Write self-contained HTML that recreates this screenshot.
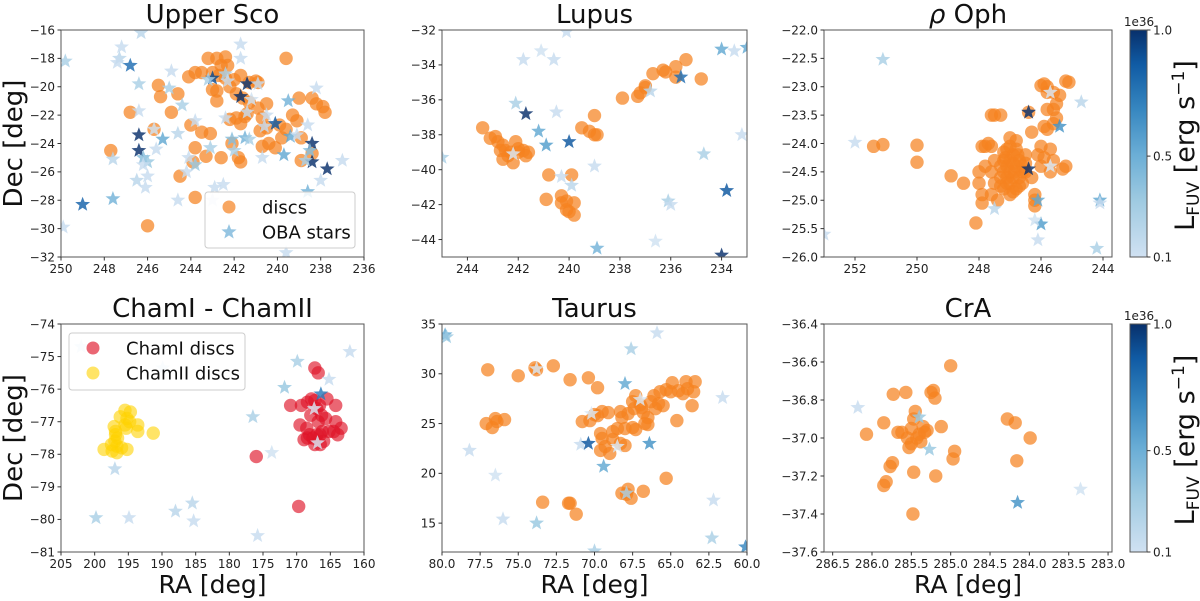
<!DOCTYPE html>
<html><head><meta charset="utf-8"><style>
body{margin:0;background:#fff;}
svg{display:block;font-family:"DejaVu Sans","Liberation Sans",sans-serif;}
</style></head><body>
<svg id="fig" width="1200" height="601" viewBox="0 0 1200 601" xmlns="http://www.w3.org/2000/svg">
<defs>
<linearGradient id="blues" x1="0" y1="1" x2="0" y2="0">
<stop offset="0" stop-color="#d0e1f2"/><stop offset="0.25" stop-color="#9ecae1"/><stop offset="0.45" stop-color="#6baed6"/><stop offset="0.65" stop-color="#3787c0"/><stop offset="0.85" stop-color="#105ba4"/><stop offset="1" stop-color="#08306b"/>
</linearGradient>
</defs>
</svg>
<script>
// ---- data ----
const upperScoDiscs=[[243.2,-18.0],[242.8,-18.0],[242.4,-17.9],[242.6,-18.5],[242.3,-18.5],[243.0,-19.0],[243.5,-19.0],[243.8,-19.0],[244.1,-19.3],[242.7,-19.2],[242.4,-19.4],[242.0,-19.5],[241.7,-19.2],[241.3,-19.7],[241.0,-19.6],[243.0,-20.2],[242.8,-20.3],[242.2,-20.0],[241.9,-20.5],[241.6,-20.8],[241.3,-21.1],[242.8,-21.0],[245.5,-19.9],[245.4,-20.7],[244.6,-20.5],[244.9,-21.8],[246.8,-21.8],[245.7,-23.0],[247.7,-24.5],[244.5,-26.3],[243.8,-27.8],[246.0,-29.8],[239.6,-18.0],[244.0,-22.7],[243.5,-23.2],[243.1,-23.3],[243.8,-24.3],[243.3,-24.9],[243.9,-25.3],[242.6,-25.0],[242.2,-22.3],[241.9,-22.2],[241.7,-22.6],[241.4,-21.9],[240.9,-21.5],[240.5,-21.2],[240.7,-22.2],[240.5,-22.9],[240.8,-23.1],[239.9,-22.7],[239.6,-23.0],[239.8,-23.6],[240.7,-24.2],[240.4,-24.0],[240.1,-24.3],[239.3,-22.0],[239.1,-22.4],[238.9,-23.6],[239.0,-20.8],[238.4,-20.8],[238.2,-21.2],[237.9,-21.4],[237.8,-21.8],[238.9,-25.2],[238.4,-24.7],[242.1,-24.0],[241.8,-25.0],[241.7,-25.3],[240.9,-19.7],[241.5,-22.1]];
const upperScoStars=[[249.8,-18.2,0.3],[247.2,-17.2,0.2],[247.3,-18.0,0.25],[247.4,-18.3,0.2],[246.8,-18.5,0.75],[246.3,-16.2,0.25],[241.7,-17.0,0.2],[241.7,-18.0,0.2],[246.4,-19.8,0.3],[244.9,-18.9,0.2],[245.0,-20.1,0.3],[246.4,-21.7,0.2],[244.4,-21.3,0.3],[246.4,-23.4,1.0],[246.4,-24.5,1.0],[245.3,-23.7,0.5],[245.7,-23.0,0.15],[244.6,-23.3,0.25],[245.6,-24.4,0.2],[246.2,-25.0,0.4],[246.0,-25.3,0.35],[246.2,-25.5,0.2],[246.0,-26.3,0.2],[246.5,-26.6,0.25],[246.1,-27.1,0.2],[247.6,-25.1,0.25],[247.6,-27.9,0.45],[249.0,-28.3,0.8],[249.9,-29.9,0.2],[243.8,-22.4,0.2],[244.1,-25.0,0.2],[243.8,-25.5,0.35],[244.2,-26.0,0.2],[243.1,-24.3,0.3],[242.9,-27.1,0.2],[242.5,-26.9,0.2],[243.0,-28.0,0.1],[244.6,-28.0,0.2],[243.0,-19.4,0.9],[243.2,-19.5,0.3],[242.4,-19.1,0.3],[242.3,-19.6,0.2],[241.4,-19.8,1.0],[241.7,-20.7,1.0],[241.2,-20.9,0.15],[241.4,-21.8,0.2],[240.9,-19.8,0.2],[242.4,-22.2,0.2],[242.1,-23.7,0.4],[241.5,-23.6,0.45],[241.3,-23.7,0.3],[242.0,-24.5,0.3],[240.7,-25.0,0.2],[240.5,-22.0,0.2],[240.6,-22.8,0.2],[240.1,-22.6,0.85],[239.4,-23.5,0.5],[239.1,-23.4,0.2],[239.3,-29.2,0.1],[239.6,-31.7,0.2],[239.5,-21.0,0.45],[239.7,-24.8,0.5],[238.6,-22.7,0.2],[238.4,-24.0,1.0],[238.4,-25.3,1.0],[237.7,-25.8,1.0],[238.5,-24.5,0.4],[238.7,-25.2,0.3],[238.6,-27.4,0.45],[238.2,-20.1,0.2],[238.0,-26.6,0.2],[237.0,-25.2,0.2]];
const lupusDiscs=[[243.4,-37.6],[243.1,-38.2],[242.9,-38.1],[242.8,-38.4],[242.6,-38.6],[242.5,-38.9],[242.7,-38.9],[242.4,-39.2],[242.6,-39.4],[242.2,-39.6],[242.1,-38.4],[242.0,-39.0],[241.7,-39.2],[241.8,-38.9],[241.6,-39.0],[242.3,-39.0],[242.0,-38.8],[240.8,-40.3],[239.9,-40.3],[240.9,-41.7],[240.3,-41.5],[240.3,-41.9],[240.1,-41.8],[240.1,-42.3],[240.0,-42.4],[239.8,-42.6],[239.8,-41.9],[239.5,-37.6],[239.2,-37.8],[239.0,-38.0],[238.9,-38.0],[239.0,-36.9],[237.9,-35.9],[237.3,-35.8],[237.2,-35.6],[237.0,-35.3],[237.0,-35.2],[236.7,-34.5],[236.3,-34.3],[236.2,-34.4],[235.8,-34.1],[235.8,-34.7],[235.4,-33.7],[234.8,-34.8]];
const lupusStars=[[240.1,-32.1,0.2],[241.1,-33.2,0.15],[241.8,-33.7,0.2],[240.6,-33.7,0.2],[242.1,-36.2,0.3],[241.7,-36.8,1.0],[240.5,-36.7,0.2],[241.2,-37.8,0.5],[240.9,-38.6,0.55],[240.0,-38.4,0.85],[242.2,-39.1,0.1],[240.3,-40.4,0.2],[239.9,-40.9,0.25],[239.0,-39.8,0.2],[238.9,-44.5,0.45],[236.6,-44.1,0.15],[236.1,-41.8,0.3],[236.0,-42.0,0.2],[236.8,-35.5,0.25],[235.6,-34.7,0.75],[234.7,-39.1,0.3],[234.0,-33.1,0.5],[233.5,-33.2,0.2],[233.0,-33.0,0.5],[233.2,-38.0,0.2],[233.8,-41.2,0.85],[234.0,-44.9,1.0],[245.0,-39.3,0.3]];
const ophDiscs=[[251.4,-24.05],[251.1,-24.02],[250.0,-24.03],[250.0,-24.33],[248.9,-24.57],[248.5,-24.7],[248.1,-25.4],[248.0,-24.7],[247.9,-24.9],[247.9,-25.05],[248.0,-24.5],[247.8,-24.4],[247.8,-24.05],[247.9,-24.05],[247.6,-24.05],[247.7,-24.0],[247.5,-24.3],[247.6,-24.5],[247.5,-24.7],[247.6,-24.9],[247.4,-25.0],[247.6,-23.5],[247.5,-23.5],[247.3,-23.5],[247.2,-24.3],[247.3,-24.6],[247.0,-23.9],[246.8,-23.95],[247.1,-24.1],[246.9,-24.2],[247.1,-24.4],[247.0,-24.5],[246.8,-24.4],[247.0,-24.7],[246.9,-24.6],[246.7,-24.3],[247.2,-24.8],[246.8,-24.8],[247.0,-24.9],[246.6,-24.5],[246.5,-24.2],[246.6,-24.7],[246.4,-23.45],[246.3,-23.8],[246.0,-24.05],[245.9,-24.25],[246.1,-24.2],[246.0,-24.4],[245.7,-24.1],[245.6,-24.3],[245.7,-24.5],[245.3,-24.45],[245.2,-24.4],[246.2,-24.9],[246.2,-25.0],[246.2,-25.1],[246.0,-22.98],[245.9,-22.95],[245.8,-23.0],[245.8,-23.1],[245.6,-23.1],[245.2,-22.9],[245.1,-22.92],[245.4,-23.15],[245.5,-23.3],[245.6,-23.4],[245.8,-23.4],[245.5,-23.55],[245.6,-23.65],[245.9,-23.7],[245.8,-23.75],[246.5,-24.5],[246.5,-24.35],[246.3,-24.6],[247.1,-24.6],[246.9,-24.35],[247.2,-24.15],[246.7,-24.6],[247.2,-24.5],[247.0,-24.3],[246.8,-24.1],[247.1,-24.7],[246.7,-24.75],[246.9,-24.85],[247.3,-24.4],[246.6,-24.4],[247.0,-24.05],[246.85,-24.5],[247.15,-24.25],[246.75,-24.2],[247.3,-24.75]];
const ophStars=[[251.1,-22.52,0.3],[252.0,-23.98,0.2],[247.5,-25.15,0.25],[246.4,-23.45,1.0],[246.4,-24.45,1.0],[245.7,-23.1,0.1],[245.7,-24.4,0.1],[245.4,-23.7,0.6],[246.1,-25.0,0.5],[246.0,-25.42,0.55],[246.2,-25.35,0.15],[246.1,-25.7,0.2],[244.7,-23.27,0.25],[244.1,-25.0,0.5],[244.1,-25.05,0.2],[244.2,-25.85,0.3],[253.0,-25.6,0.2]];
const chamIDiscs=[[167.3,-75.35],[166.8,-75.5],[165.5,-76.3],[164.2,-76.5],[170.9,-76.5],[169.3,-76.5],[168.4,-76.4],[167.8,-76.3],[167.3,-76.35],[166.6,-76.5],[167.0,-76.6],[166.3,-76.8],[167.9,-76.8],[166.8,-77.0],[169.5,-77.1],[164.2,-77.0],[163.4,-77.2],[164.5,-77.3],[163.9,-77.4],[165.2,-77.3],[168.1,-77.4],[167.6,-77.5],[167.0,-77.4],[166.5,-77.4],[166.2,-77.3],[168.4,-77.5],[168.9,-77.55],[166.0,-77.6],[167.3,-77.7],[166.5,-77.7],[176.0,-78.07],[169.7,-79.6],[168.5,-77.2],[165.7,-76.9]];
const chamIIDiscs=[[195.5,-76.65],[194.7,-76.7],[196.2,-76.85],[195.2,-76.9],[194.8,-77.0],[197.1,-77.15],[195.5,-77.1],[195.3,-77.2],[193.6,-77.1],[193.6,-77.3],[191.3,-77.35],[196.9,-77.3],[196.6,-77.5],[197.0,-77.6],[196.7,-77.75],[196.0,-77.8],[198.6,-77.85],[197.4,-77.9],[196.7,-77.95],[195.2,-77.85],[197.5,-77.7],[196.9,-77.4]];
const chamStars=[[202.0,-74.7,0.15],[189.9,-75.35,0.15],[162.1,-74.85,0.2],[169.9,-75.15,0.3],[165.2,-75.7,0.2],[171.8,-75.95,0.35],[166.4,-76.15,0.7],[167.4,-76.6,0.1],[166.9,-77.65,0.1],[176.5,-76.85,0.3],[173.7,-77.95,0.15],[197.0,-78.45,0.25],[199.8,-79.95,0.3],[194.9,-79.95,0.2],[188.0,-79.75,0.25],[185.5,-79.5,0.25],[185.3,-80.05,0.2],[175.8,-80.5,0.2]];
const taurusDiscs=[[77.0,30.4],[75.0,29.8],[73.9,30.6],[73.8,30.4],[72.7,30.8],[71.6,29.4],[70.4,29.6],[69.8,28.6],[77.1,25.0],[76.5,25.5],[76.4,25.2],[76.7,24.6],[75.9,25.4],[73.4,17.1],[71.6,17.0],[71.7,17.0],[71.2,15.9],[70.8,25.2],[70.3,25.3],[70.0,25.9],[69.5,26.2],[69.1,26.1],[69.8,25.8],[69.6,24.0],[69.5,23.5],[69.3,22.7],[69.6,22.3],[69.0,22.0],[68.8,23.4],[68.8,24.2],[68.5,24.5],[68.3,23.0],[68.0,22.8],[68.0,24.5],[67.5,24.6],[67.3,24.4],[68.2,25.6],[68.3,26.2],[67.8,26.0],[67.4,26.5],[67.0,26.9],[66.9,26.6],[67.5,27.2],[67.3,27.8],[66.8,26.1],[66.5,25.6],[66.0,26.5],[66.3,27.2],[65.8,27.0],[65.5,26.8],[66.1,27.8],[65.7,28.2],[65.3,28.4],[65.0,28.2],[64.9,29.1],[64.5,28.3],[64.2,28.0],[64.0,29.2],[63.9,28.5],[63.5,28.2],[63.4,29.2],[63.6,26.8],[64.6,25.3],[65.3,19.5],[66.5,24.9],[67.8,18.4],[67.9,17.9],[67.6,17.5],[66.8,18.2],[68.2,18.0],[66.7,25.0]];
const taurusStars=[[79.8,33.9,0.5],[79.7,33.7,0.35],[78.2,22.3,0.2],[76.5,19.8,0.15],[76.0,15.4,0.2],[73.8,15.0,0.35],[73.8,30.5,0.1],[70.9,22.9,0.2],[70.4,23.0,0.85],[70.2,26.0,0.1],[70.0,12.2,0.3],[69.4,20.7,0.5],[68.0,29.0,0.5],[67.6,32.5,0.3],[67.0,27.4,0.1],[68.5,22.7,0.1],[67.9,18.0,0.3],[66.4,23.0,0.6],[65.9,34.1,0.2],[61.6,27.6,0.2],[62.2,17.3,0.2],[62.3,13.5,0.3],[60.1,12.6,0.65]];
const craDiscs=[[285.0,-36.62],[285.73,-36.77],[285.57,-36.76],[285.25,-36.76],[285.22,-36.75],[285.2,-36.79],[285.45,-36.86],[285.47,-36.9],[285.85,-36.92],[285.12,-36.94],[285.67,-36.97],[285.62,-36.97],[285.5,-36.95],[285.4,-36.98],[285.35,-36.94],[285.3,-36.96],[285.43,-37.0],[285.55,-37.0],[285.5,-37.03],[285.38,-37.02],[286.07,-36.98],[285.53,-37.05],[284.95,-37.07],[284.97,-37.11],[285.74,-37.13],[285.77,-37.15],[285.47,-37.18],[285.19,-37.2],[285.82,-37.23],[285.85,-37.25],[285.48,-37.4],[284.28,-36.9],[284.18,-36.92],[283.99,-37.0],[284.16,-37.12],[285.33,-36.97]];
const craStars=[[286.18,-36.84,0.2],[285.4,-36.89,0.35],[285.27,-37.06,0.35],[284.15,-37.34,0.6],[283.35,-37.27,0.15]];
const usXTicks=[250,248,246,244,242,240,238,236];
const usYTicks=[-16,-18,-20,-22,-24,-26,-28,-30,-32];
const luXTicks=[244,242,240,238,236,234];
const luYTicks=[-32,-34,-36,-38,-40,-42,-44];
const opXTicks=[252,250,248,246,244];
const opYTicks=[-22.0,-22.5,-23.0,-23.5,-24.0,-24.5,-25.0,-25.5,-26.0];
const chXTicks=[205,200,195,190,185,180,175,170,165,160];
const chYTicks=[-74,-75,-76,-77,-78,-79,-80,-81];
const taXTicks=[80.0,77.5,75.0,72.5,70.0,67.5,65.0,62.5,60.0];
const taYTicks=[15,20,25,30,35];
const crXTicks=[286.5,286.0,285.5,285.0,284.5,284.0,283.5,283.0];
const crYTicks=[-36.4,-36.6,-36.8,-37.0,-37.2,-37.4,-37.6];
const cbTicks=[0.1,0.5,1.0];

const NS="http://www.w3.org/2000/svg";
const svg=document.getElementById('fig');
function mk(tag,attrs,parent){const e=document.createElementNS(NS,tag);for(const k in attrs)e.setAttribute(k,attrs[k]);(parent||svg).appendChild(e);return e;}
const blues=[[247,251,255],[222,235,247],[198,219,239],[158,202,225],[107,174,214],[66,146,198],[33,113,181],[8,81,156],[8,48,107]];
function cmap(v){let t=Math.max(0,Math.min(1,(v-0.1)/0.9));t=0.15+t*0.85;const p=t*8,i=Math.min(7,Math.floor(p)),f=p-i;const a=blues[i],b=blues[i+1];return `rgb(${a.map((c,j)=>Math.round(c+(b[j]-c)*f)).join(',')})`;}
function starPath(cx,cy,R){const r=R*0.42;let d='';for(let i=0;i<10;i++){const ang=-Math.PI/2+i*Math.PI/5;const rr=i%2?r:R;d+=(i?'L':'M')+(cx+rr*Math.cos(ang)).toFixed(1)+','+(cy+rr*Math.sin(ang)).toFixed(1);}return d+'Z';}
function fmt(v,dec){const s=v.toFixed(dec);return s.replace('-','−');}

let pid=0;
function panel(cfg){
  pid++;
  const {x0,x1,y0,y1,xlim,ylim}=cfg;
  const X=v=>x0+(v-xlim[0])/(xlim[1]-xlim[0])*(x1-x0);
  const Y=v=>y0+(v-ylim[0])/(ylim[1]-ylim[0])*(y1-y0);
  const g=mk('g',{});
  
  
  const cp=mk('clipPath',{id:'cp'+pid},g);mk('rect',{x:x0,y:y0,width:x1-x0,height:y1-y0},cp);
  const plot=mk('g',{'clip-path':`url(#cp${pid})`},g);
  
  
  (cfg.discs||[]).forEach(set=>{set.data.forEach(d=>{
    const c=mk('circle',{cx:X(d[0]),cy:Y(d[1]),r:6.7,fill:set.color,'fill-opacity':set.op},plot);
    
    
  });});
  cfg.stars.forEach(d=>{
    const s=mk('path',{d:starPath(X(d[0]),Y(d[1]),7.8),fill:cmap(d[2]),'fill-opacity':0.82},plot);
    
    
  });
  const fr=mk('rect',{x:x0,y:y0,width:x1-x0,height:y1-y0,fill:'none',stroke:'#555','stroke-width':1},g);
  
  
  cfg.xticks.forEach(t=>{const x=X(t);mk('line',{x1:x,x2:x,y1:y1,y2:y1+3.5,stroke:'#333'},g);
    const tx=mk('text',{x:x,y:y1+16,'font-size':12,'text-anchor':'middle',fill:'#222'},g);tx.textContent=fmt(t,cfg.xdec);
    
    });
  cfg.yticks.forEach(t=>{const y=Y(t);mk('line',{x1:x0-3.5,x2:x0,y1:y,y2:y,stroke:'#333'},g);
    const tx=mk('text',{x:x0-6,y:y+4.3,'font-size':12,'text-anchor':'end',fill:'#222'},g);tx.textContent=fmt(t,cfg.ydec);
    
    });
  const ti=mk('text',{x:(x0+x1)/2,y:y0-7,'font-size':26,'text-anchor':'middle',fill:'#111'},g);
  ti.innerHTML=cfg.title;
  
  
  if(cfg.ylabel){const l=mk('text',{x:0,y:0,'font-size':26,'text-anchor':'middle',fill:'#111',transform:`translate(22,${(y0+y1)/2}) rotate(-90)`},g);l.textContent='Dec [deg]';
    
    }
  if(cfg.xlabel){const l=mk('text',{x:(x0+x1)/2,y:y1+41,'font-size':25,'text-anchor':'middle',fill:'#111'},g);l.textContent='RA [deg]';
    
    }
  return g;
}
const ORANGE='rgb(245,130,32)';
panel({name:'upper-sco-panel',x0:61,x1:364,y0:30,y1:257,xlim:[250,236],ylim:[-16,-32],xticks:usXTicks,yticks:usYTicks,xdec:0,ydec:0,title:'Upper Sco',ylabel:true,
  discs:[{data:upperScoDiscs,color:ORANGE,op:0.72,mark:'disc-point'}],stars:upperScoStars});
panel({name:'lupus-panel',x0:442,x1:747,y0:30,y1:257,xlim:[245,233],ylim:[-32,-45],xticks:luXTicks,yticks:luYTicks,xdec:0,ydec:0,title:'Lupus',
  discs:[{data:lupusDiscs,color:ORANGE,op:0.72,mark:'disc-point'}],stars:lupusStars});
panel({name:'rho-oph-panel',x0:824,x1:1112,y0:30,y1:257,xlim:[253,243.71],ylim:[-22,-26],xticks:opXTicks,yticks:opYTicks,xdec:0,ydec:1,title:'<tspan font-style="italic">ρ</tspan> Oph',
  discs:[{data:ophDiscs,color:ORANGE,op:0.72,mark:'disc-point'}],stars:ophStars});
panel({name:'cham-panel',x0:61,x1:364,y0:324,y1:552,xlim:[205,160],ylim:[-74,-81],xticks:chXTicks,yticks:chYTicks,xdec:0,ydec:0,title:'ChamI - ChamII',ylabel:true,xlabel:true,
  discs:[{data:chamIDiscs,color:'rgb(222,20,40)',op:0.65,mark:'chami-disc-point'},{data:chamIIDiscs,color:'rgb(255,210,0)',op:0.6,mark:'chamii-disc-point'}],stars:chamStars});
panel({name:'taurus-panel',x0:442,x1:747,y0:324,y1:552,xlim:[80,60],ylim:[35,12.1],xticks:taXTicks,yticks:taYTicks,xdec:1,ydec:0,title:'Taurus',xlabel:true,
  discs:[{data:taurusDiscs,color:ORANGE,op:0.72,mark:'disc-point'}],stars:taurusStars});
panel({name:'cra-panel',x0:824,x1:1112,y0:324,y1:552,xlim:[286.61,282.95],ylim:[-36.4,-37.6],xticks:crXTicks,yticks:crYTicks,xdec:1,ydec:1,title:'CrA',xlabel:true,
  discs:[{data:craDiscs,color:ORANGE,op:0.72,mark:'disc-point'}],stars:craStars});

// legends
function legend(x,y,w,h,items,name){
  const g=mk('g',{});
  
  
  mk('rect',{x:x,y:y,width:w,height:h,rx:3,fill:'#fff','fill-opacity':0.85,stroke:'#ccc'},g);
  items.forEach((it,i)=>{const cy=y+15+i*25;
    if(it.star){mk('path',{d:starPath(x+24,cy,8),fill:it.color,'fill-opacity':0.75},g);}
    else mk('circle',{cx:x+24,cy:cy,r:6.5,fill:it.color,'fill-opacity':it.op},g);
    const t=mk('text',{x:x+57,y:cy+6.5,'font-size':18,fill:'#111'},g);t.textContent=it.label;
    
    });
}
legend(205,192,150,56,[{color:ORANGE,op:0.7,label:'discs'},{star:true,color:cmap(0.45),label:'OBA stars'}],'upper-sco-legend');
legend(69,333,176,57,[{color:'rgb(222,20,40)',op:0.65,label:'ChamI discs'},{color:'rgb(255,210,0)',op:0.6,label:'ChamII discs'}],'cham-legend');

// colorbars
function colorbar(y0,y1,name){
  const g=mk('g',{});
  
  
  mk('rect',{x:1130,y:y0,width:17,height:y1-y0,fill:'url(#blues)',stroke:'#555'},g);
  const Y=v=>y1-(v-0.1)/0.9*(y1-y0);
  cbTicks.forEach(t=>{const y=Y(t);mk('line',{x1:1147,x2:1150.5,y1:y,y2:y,stroke:'#333'},g);
    const tx=mk('text',{x:1153,y:y+4.3,'font-size':12,fill:'#222'},g);tx.textContent=t.toFixed(1);
    
    });
  const e=mk('text',{x:1139,y:y0-4,'font-size':12,'text-anchor':'middle',fill:'#222'},g);e.textContent='1e36';
  
  
  const l=mk('text',{x:0,y:0,'font-size':27,'text-anchor':'middle',fill:'#111',transform:`translate(1194,${(y0+y1)/2+2}) rotate(-90)`},g);
  l.innerHTML='L<tspan font-size="17" dy="5">FUV</tspan><tspan dy="-5"> [erg s</tspan><tspan font-size="17" dy="-10">−1</tspan><tspan dy="10">]</tspan>';
  
  
}
colorbar(30,257,'colorbar-top');
colorbar(324,552,'colorbar-bottom');
</script>
</body></html>
